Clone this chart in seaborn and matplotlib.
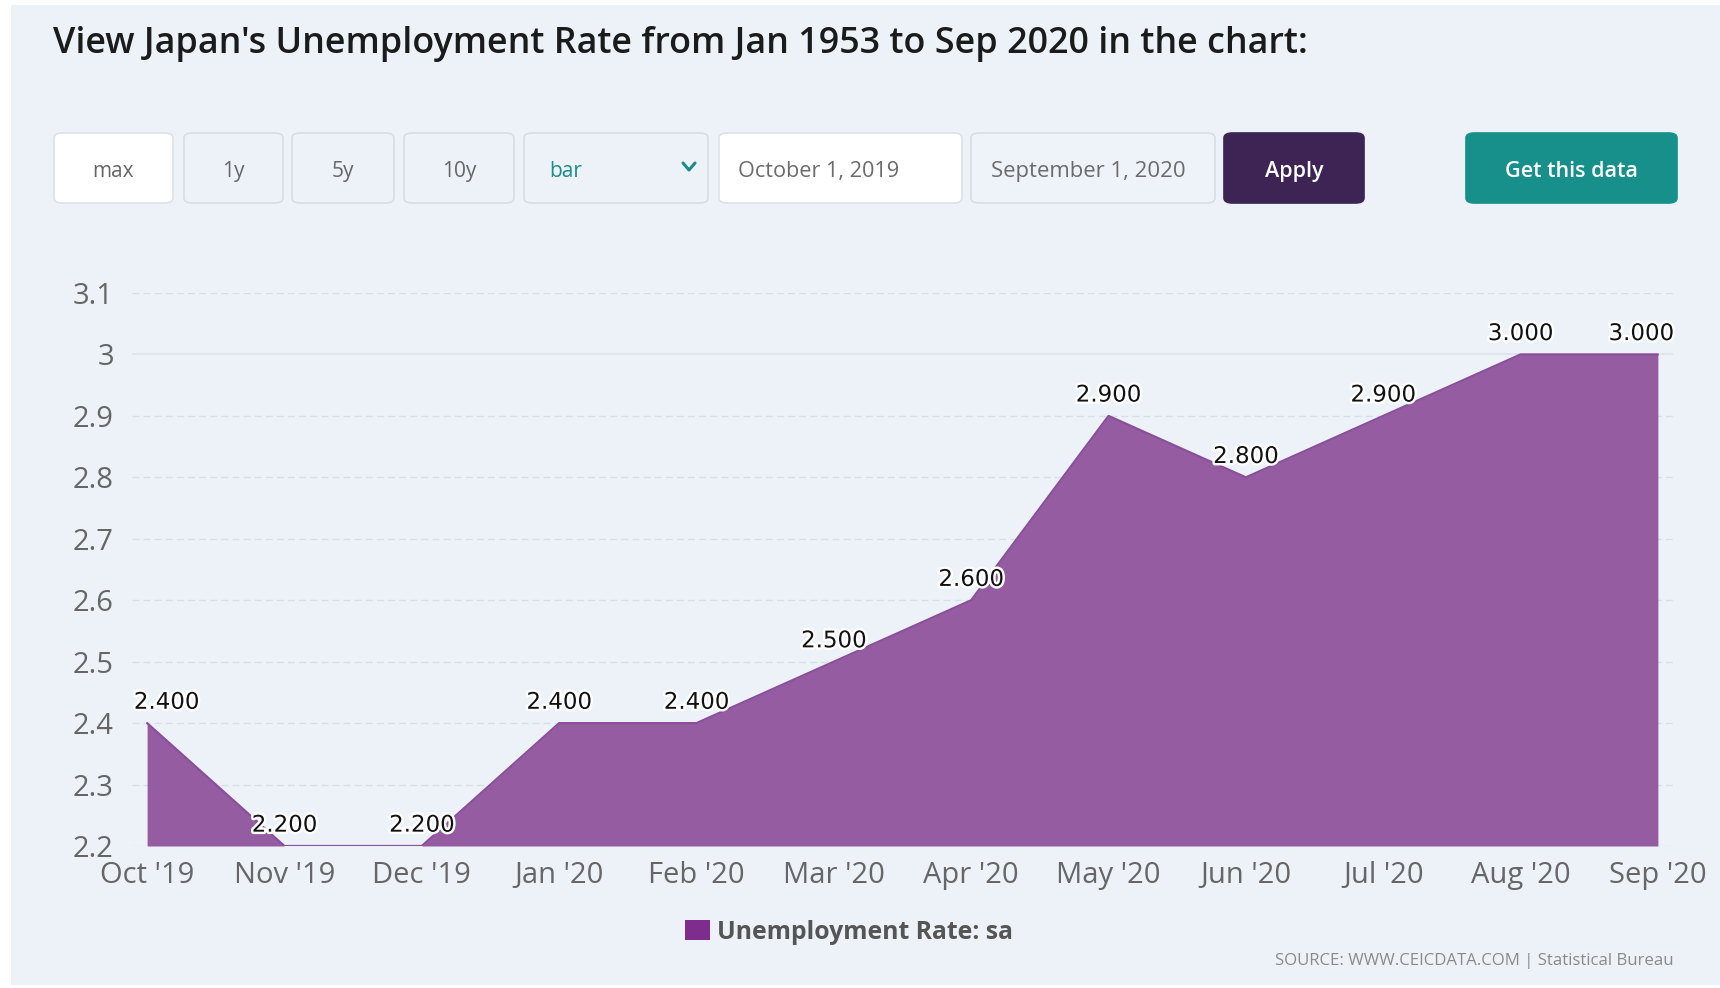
import numpy as np
import pandas as pd
import matplotlib
matplotlib.use("Agg")
import matplotlib.pyplot as plt
import seaborn as sns
from matplotlib.patches import FancyBboxPatch, Rectangle, Patch
from matplotlib.lines import Line2D
import matplotlib.patheffects as pe

# ---- data ----
months = ["Oct '19", "Nov '19", "Dec '19", "Jan '20", "Feb '20", "Mar '20",
          "Apr '20", "May '20", "Jun '20", "Jul '20", "Aug '20", "Sep '20"]
rate = [2.4, 2.2, 2.2, 2.4, 2.4, 2.5, 2.6, 2.9, 2.8, 2.9, 3.0, 3.0]
yticks = [2.2, 2.3, 2.4, 2.5, 2.6, 2.7, 2.8, 2.9, 3.0, 3.1]
ytick_labels = ["2.2", "2.3", "2.4", "2.5", "2.6", "2.7", "2.8", "2.9", "3", "3.1"]
series_name = "Unemployment Rate: sa"
title = "View Japan's Unemployment Rate from Jan 1953 to Sep 2020 in the chart:"
buttons = ["max", "1y", "5y", "10y"]
date_from = "October 1, 2019"
date_to = "September 1, 2020"
source = "SOURCE: WWW.CEICDATA.COM | Statistical Bureau"

df = pd.DataFrame({"idx": np.arange(len(months)), "month": months, "rate": rate})

BG = "#EDF2F9"
FILL = "#955CA1"
LINE = "#8A4F9B"
UI_FONT = ["Open Sans", "DejaVu Sans"]

sns.set_theme(style="white")
plt.rcParams["font.family"] = UI_FONT

W, H = 1720, 988
fig = plt.figure(figsize=(W / 100, H / 100), dpi=100, facecolor="white")

def fx(px):
    return px / W

def fy(py):
    return 1 - py / H

# panel background
fig.add_artist(Rectangle((fx(11), fy(985)), fx(1720) - fx(11), fy(5) - fy(985),
                         transform=fig.transFigure, facecolor=BG, edgecolor="none", zorder=0))

# title
fig.text(fx(53), fy(44), title, fontsize=25.8, fontweight="semibold", color="#1b1b1b",
         ha="left", va="center")

# buttons row
def button(x0, x1, text, face, edge, tcolor, weight="normal", ha="center", tx=None, size=15):
    y0, y1 = 133, 203
    fig.add_artist(FancyBboxPatch((fx(x0), fy(y1)), fx(x1) - fx(x0), fy(y0) - fy(y1),
                                  boxstyle="round,pad=0,rounding_size=0.005",
                                  transform=fig.transFigure, facecolor=face,
                                  edgecolor=edge, linewidth=1.2, zorder=1))
    if tx is None:
        tx = (x0 + x1) / 2
    fig.text(fx(tx), fy((y0 + y1) / 2 + 3), text, ha=ha, va="center",
             fontsize=size, color=tcolor, fontweight=weight, zorder=2)

button(54, 173, buttons[0], "#FFFFFF", "#DCE2EA", "#666666")
button(184, 283, buttons[1], "#EDF2F8", "#D7DDE5", "#666666")
button(292, 394, buttons[2], "#EDF2F8", "#D7DDE5", "#666666")
button(404, 514, buttons[3], "#EDF2F8", "#D7DDE5", "#666666")
button(524, 708, "bar", "#EDF2F8", "#D7DDE5", "#1A8C8A", ha="left", tx=549)
# dropdown chevron
cx, cy = 689, 167
fig.add_artist(Line2D([fx(cx - 6), fx(cx), fx(cx + 6)], [fy(cy - 4), fy(cy + 3), fy(cy - 4)],
                      transform=fig.transFigure, color="#1A8C8A", linewidth=2.2, zorder=3))
button(719, 962, date_from, "#FFFFFF", "#DCE2EA", "#6b6b6b", ha="left", tx=738, size=15.6)
button(971, 1215, date_to, "#EEF3F9", "#D7DDE5", "#6b6b6b", ha="left", tx=991, size=15.9)
button(1224, 1364, "Apply", "#3E2454", "#3E2454", "#FFFFFF", weight="semibold", size=15.5)
button(1466, 1677, "Get this data", "#17908B", "#17908B", "#FFFFFF", weight="semibold", size=15.5)

# ---- chart ----
ax = fig.add_axes([fx(132), fy(846), fx(1673) - fx(132), fy(293) - fy(846)])
ax.patch.set_alpha(0)

ax.fill_between(df["idx"], 2.2, df["rate"], color=FILL, linewidth=0, zorder=2)
sns.lineplot(data=df, x="idx", y="rate", ax=ax, color=LINE, linewidth=1.6, zorder=3,
             legend=False)

ax.set_xlim(-0.11, len(months) - 1 + 0.11)
ax.set_ylim(2.2, 3.1)
ax.set_yticks(yticks)
ax.set_yticklabels(ytick_labels)
ax.set_xticks(df["idx"])
ax.set_xticklabels(months)
ax.tick_params(axis="both", length=0, labelsize=21, labelcolor="#666666")
ax.tick_params(axis="y", pad=13)
ax.tick_params(axis="x", pad=11)
for lab in ax.get_xticklabels() + ax.get_yticklabels():
    lab.set_family(UI_FONT)
ax.set_xlabel("")
ax.set_ylabel("")
for s in ax.spines.values():
    s.set_visible(False)

for t in yticks:
    if abs(t - 3.0) < 1e-9:
        ax.axhline(t, color="#DDE3EA", linewidth=1.2, zorder=1)
    else:
        ax.axhline(t, color="#D8DEE6", linewidth=1.0, linestyle=(0, (5, 3)), zorder=1)

# data labels
n = len(months)
for i, v in enumerate(rate):
    dx = 0
    if i == 0:
        dx = 14
    elif i == n - 1:
        dx = -12
    ax.annotate(f"{v:.3f}", (i, v), xytext=(dx, 15), textcoords="offset points",
                ha="center", va="center", fontsize=16.5, family="DejaVu Sans",
                color="#111111", zorder=5,
                path_effects=[pe.withStroke(linewidth=3.5, foreground="white")])

# legend
handle = Patch(facecolor="#7E2C8E", edgecolor="none")
leg = fig.legend([handle], [series_name], loc="center", bbox_to_anchor=(fx(849), fy(932)),
                 frameon=False, handlelength=1.0, handleheight=0.9, handletextpad=0.3,
                 prop={"family": UI_FONT, "weight": "bold", "size": 17.8})
for t in leg.get_texts():
    t.set_color("#555555")

# source
fig.text(fx(1674), fy(961), source, ha="right", va="center", fontsize=12.1, color="#8a8a8a")

fig.savefig("out.png", dpi=100, facecolor="white")
